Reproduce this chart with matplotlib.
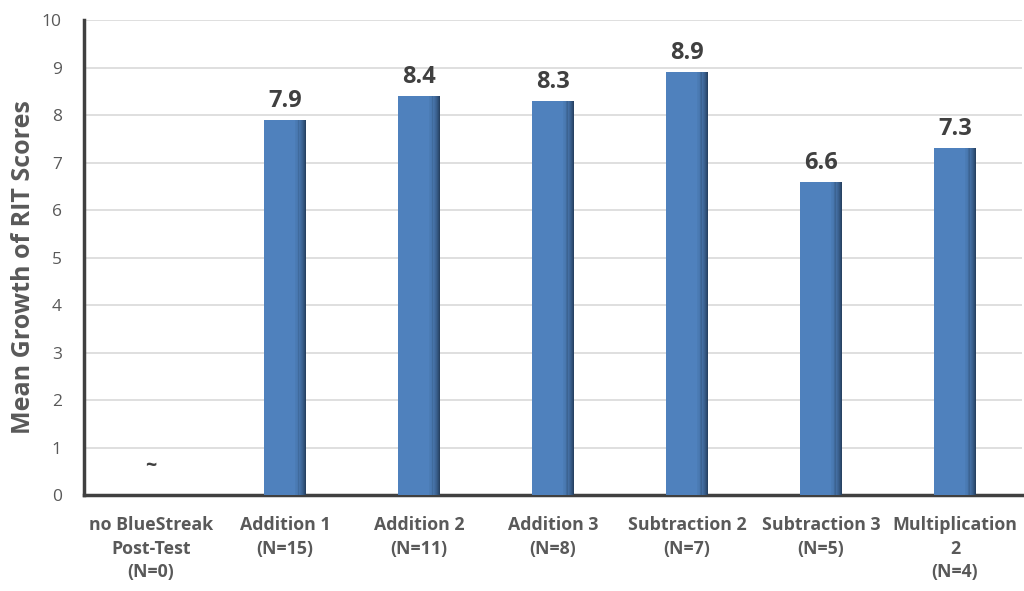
import matplotlib
matplotlib.use("Agg")
import matplotlib.pyplot as plt
import numpy as np

categories = ["no BlueStreak\nPost-Test\n(N=0)", "Addition 1\n(N=15)", "Addition 2\n(N=11)",
              "Addition 3\n(N=8)", "Subtraction 2\n(N=7)", "Subtraction 3\n(N=5)",
              "Multiplication\n2\n(N=4)"]
values = [0.0, 7.9, 8.4, 8.3, 8.9, 6.6, 7.3]
value_labels = ["~", "7.9", "8.4", "8.3", "8.9", "6.6", "7.3"]
yticks = list(range(0, 11))

plt.rcParams['font.family'] = ['Open Sans', 'DejaVu Sans']

fig = plt.figure(figsize=(10.24, 5.91), dpi=100)
ax = fig.add_axes([0.082, 0.162, 0.916, 0.804])

x = np.arange(len(categories))
width = 0.31
bars = ax.bar(x, values, width=width, color="#4F81BD", zorder=3, linewidth=0)
# shading on the right edge of each bar
nstrip = 10
shade_w = width * 0.25
for i in range(nstrip):
    frac = (i + 1) / nstrip
    alpha = 0.05 + 0.7 * frac ** 2
    ax.bar(x + width / 2 - shade_w + shade_w * i / nstrip, values, width=shade_w / nstrip * 1.05,
           align='edge', color="#1A2D45", alpha=alpha, zorder=4, linewidth=0)

for xi, v, lab in zip(x, values, value_labels):
    if lab == "~":
        ax.text(xi, 0.4, lab, ha='center', va='bottom', fontsize=14, fontweight='bold', color='#404040')
    else:
        ax.text(xi, v + 0.15, lab, ha='center', va='bottom', fontsize=17, fontweight='bold', color='#404040')

ax.set_xlim(-0.5, len(categories) - 0.5)
ax.set_ylim(0, 10)
ax.set_yticks(yticks)
ax.set_yticklabels([str(t) for t in yticks], fontsize=12.5, color='#595959')
ax.set_xticks(x)
ax.set_xticklabels(categories, fontsize=12.8, fontweight='bold', color='#595959', linespacing=1.4, va='top')
ax.tick_params(axis='y', length=0, pad=16)
ax.tick_params(axis='x', length=0, pad=15)

ax.grid(axis='y', color='#D9D9D9', linewidth=1.2, zorder=0)
ax.set_axisbelow(True)
for s in ['top', 'right']:
    ax.spines[s].set_visible(False)
ax.spines['left'].set_color('#404040')
ax.spines['left'].set_linewidth(2.5)
ax.spines['bottom'].set_color('#404040')
ax.spines['bottom'].set_linewidth(2.5)

ax.set_ylabel("Mean Growth of RIT Scores", fontsize=18, fontweight='bold', color='#595959')
ax.yaxis.set_label_coords(-0.051, 0.48)

fig.savefig("out.png", dpi=100)
